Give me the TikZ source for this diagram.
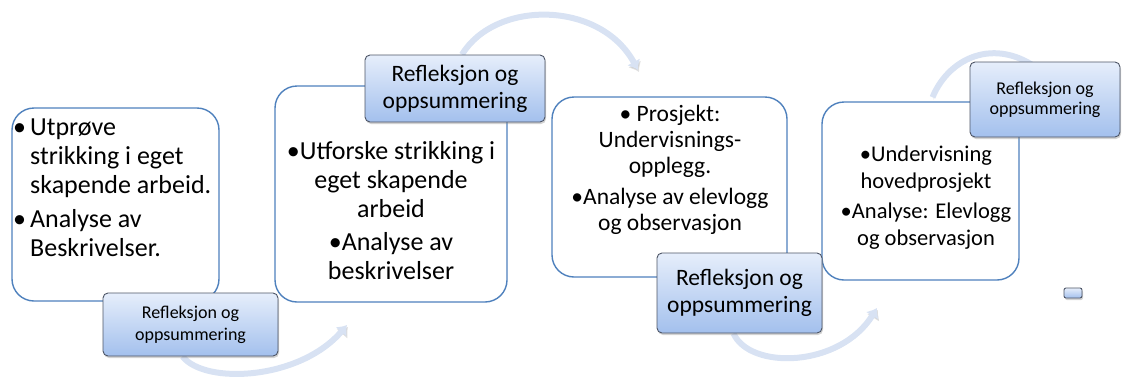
\documentclass[tikz,border=0pt]{standalone}
\usepackage{fontspec}
\setmainfont{Carlito}
\usetikzlibrary{arrows.meta,shadows}
\definecolor{boxblue}{HTML}{4F81BD}
\definecolor{reflline}{HTML}{4D5566}
\definecolor{refltop}{HTML}{E6EEFB}
\definecolor{reflbot}{HTML}{A3C0ED}
\definecolor{arcblue}{HTML}{D8E2F3}
\pgfdeclarelayer{bg}
\pgfsetlayers{bg,main}

\begin{document}
\begin{tikzpicture}[x=1pt,y=-1pt,
  stepbox/.style n args={2}{draw=boxblue, line width=1.4pt, fill=white, rounded corners=22pt,
    minimum width=#1, minimum height=#2, inner sep=0pt},
  reflbox/.style n args={2}{draw=reflline, line width=0.9pt, rounded corners=5pt,
    top color=refltop, bottom color=reflbot, align=center, inner sep=0pt,
    minimum width=#1, minimum height=#2,
    drop shadow={shadow xshift=1pt, shadow yshift=-2pt, opacity=.35}},
  bendarrow/.style={line width=6pt, draw=arcblue, -{Latex[length=9pt,width=15pt]},
    preaction={draw=black!30, opacity=.4, transform canvas={xshift=1pt,yshift=-2pt}}}]
\useasboundingbox (0,0) rectangle (1125,378);
% the four steps
\node[stepbox={207pt}{193pt}] (step1) at (115.5,204.5) {};
\node[stepbox={232pt}{216pt}] (step2) at (391,194) {};
\node[stepbox={235pt}{180pt}] (step3) at (669.5,187) {};
\node[stepbox={197pt}{178pt}] (step4) at (920.5,191) {};
\node[align=left, anchor=west, inner sep=0pt, font=\fontsize{26}{29}\selectfont] (txt1) at (13,188)
  {\makebox[17pt][l]{•}Utprøve\\ \hspace*{17pt}strikking i eget\\ \hspace*{17pt}skapende arbeid.\\[5pt]
   \makebox[17pt][l]{•}Analyse av\\ \hspace*{17pt}Beskrivelser.};
\node[align=center, inner sep=0pt, font=\fontsize{26}{29}\selectfont] (txt2) at (391,211)
  {•Utforske strikking i\\eget skapende\\arbeid\\[4pt]•Analyse av\\beskrivelser};
\node[align=center, inner sep=0pt, font=\fontsize{23.5}{26}\selectfont] (txt3) at (670,170)
  {• Prosjekt:\\Undervisnings-\\opplegg.\\[5pt]•Analyse av elevlogg\\og observasjon};
\node[align=center, inner sep=0pt, font=\fontsize{22.5}{27}\selectfont] (txt4) at (926,198)
  {•Undervisning\\hovedprosjekt\\[3pt]•Analyse: Elevlogg\\og observasjon};
% reflection labels
\node[reflbox={175pt}{63pt}, font=\fontsize{18}{22}\selectfont] (refl1) at (190.5,324.5) {Refleksjon og\\oppsummering};
\node[reflbox={180pt}{67pt}, font=\fontsize{23.5}{27}\selectfont] (refl2) at (455,88.5) {Refleksjon og\\oppsummering};
\node[reflbox={165pt}{80pt}, font=\fontsize{23.5}{27}\selectfont] (refl3) at (739.5,293) {Refleksjon og\\oppsummering};
\node[reflbox={150pt}{75pt}, font=\fontsize{18}{20}\selectfont] (refl4) at (1045,99.5) {Refleksjon og\\oppsummering};
\node[reflbox={18pt}{10pt}, rounded corners=2pt] (mini) at (1073,293) {};
% bent arrows behind
\coordinate (tip1) at (347,325);
\coordinate (tip2) at (638,70);
\coordinate (tip3) at (877,308);
\begin{pgfonlayer}{bg}
\draw[bendarrow] ([xshift=-8pt]refl1.south) .. controls (205,385) and (300,380) .. (tip1);
\draw[bendarrow] ([xshift=7pt]refl2.north) .. controls (495,0) and (600,0) .. (tip2);
\draw[bendarrow] ([xshift=-6pt]refl3.south) .. controls (750,370) and (840,368) .. (tip3);
\draw[bendarrow, -] ([xshift=12pt,yshift=4pt]step4.north) .. controls (950,55) and (1000,35) .. ([yshift=25pt]refl4.center);
\end{pgfonlayer}
\end{tikzpicture}
\end{document}
